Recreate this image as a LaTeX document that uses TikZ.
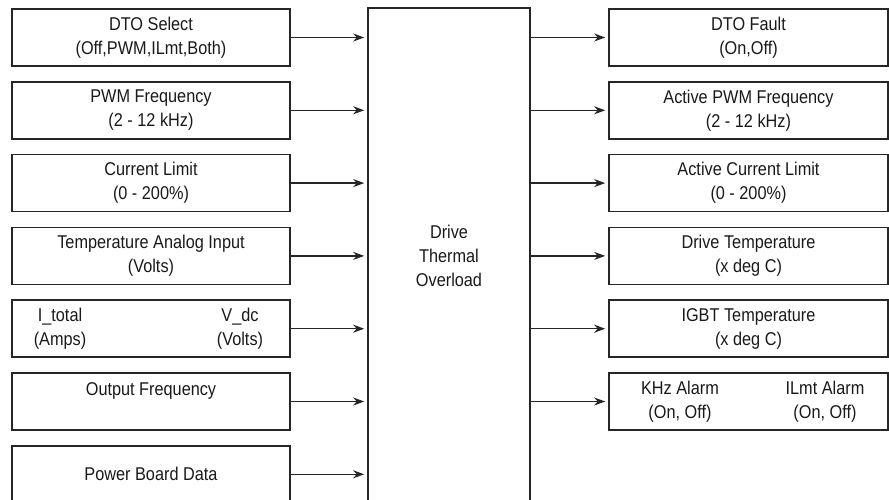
\documentclass[tikz,border=0pt]{standalone}
\usepackage{fontspec}
\setmainfont{Liberation Sans}[FakeStretch=0.88]
\usepackage{tikz}
\usetikzlibrary{calc, positioning, arrows.meta}
\newcommand{\fsz}{\fontsize{18.5}{24}\selectfont}
\tikzstyle{blk}=[inner sep=0pt, draw=black!85, line width=1.6pt, shape=rectangle, minimum width=278pt, minimum height=57pt, align=center, font=\fsz, text=black!90]
\tikzstyle{txt}=[inner sep=0pt, align=center, font=\fsz, text=black!90]
\tikzstyle{arr}=[draw=black!85, line width=1.4pt, ->, shorten >=3pt]
\tikzset{>={Stealth[length=11pt, width=8pt, inset=3.5pt]}}

\begin{document}
\begin{tikzpicture}[x=1pt, y=-1pt]
\useasboundingbox (0,0) rectangle (889,500);
\clip (0,0) rectangle (889,500);
\node[blk, minimum width=162pt, minimum height=496pt] (dto) at (449, 256) {Drive\\Thermal\\Overload};
\foreach \j/\t in {0/{DTO Select\\(Off,PWM,ILmt,Both)}, 1/{PWM Frequency\\(2 - 12 kHz)}, 2/{Current Limit\\(0 - 200\%)}, 3/{Temperature Analog Input\\(Volts)}, 4/{}, 5/{Output Frequency\\ }, 6/{Power Board Data}}
{
\node[blk] (in\j) at (151, 37.5+72.8*\j) {\t};
\draw[arr] (in\j.east) -- (in\j.east -| dto.west);
}
\foreach \j/\t in {0/{DTO Fault\\(On,Off)}, 1/{Active PWM Frequency\\(2 - 12 kHz)}, 2/{Active Current Limit\\(0 - 200\%)}, 3/{Drive Temperature\\(x deg C)}, 4/{IGBT Temperature\\(x deg C)}, 5/{}}
{
\node[blk, minimum width=279pt] (out\j) at (748.5, 37.5+72.8*\j) {\t};
\draw[arr] (dto.east |- out\j.west) -- (out\j.west);
}
\node[txt] (itot) at ($(in4.center)+(-91,0)$) {I\_total\\(Amps)};
\node[txt] (vdc) at ($(in4.center)+(89,0)$) {V\_dc\\(Volts)};
\node[txt] (khz) at ($(out5.center)+(-68.5,0)$) {KHz Alarm\\(On, Off)};
\node[txt] (ilmt) at ($(out5.center)+(76.5,0)$) {ILmt Alarm\\(On, Off)};
\end{tikzpicture}
\end{document}
